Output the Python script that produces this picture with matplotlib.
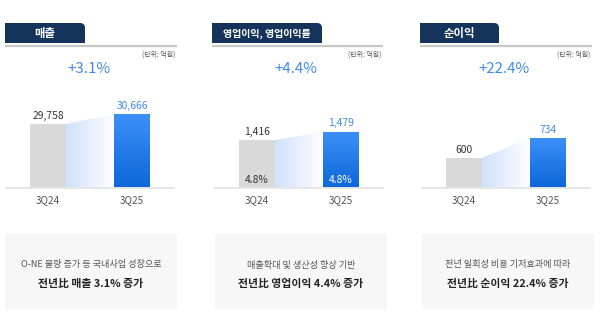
import numpy as np
import matplotlib.pyplot as plt
from matplotlib.colors import LinearSegmentedColormap
from matplotlib.patches import PathPatch, Rectangle, Polygon
from matplotlib.path import Path

plt.rcParams['font.family'] = ['Noto Sans CJK KR', 'DejaVu Sans']

titles = ['매출', '영업이익, 영업이익률', '순이익']
quarters = ['3Q24', '3Q25']
prev_vals = [29758, 1416, 600]
curr_vals = [30666, 1479, 734]
growth = ['+3.1%', '+4.4%', '+22.4%']
margins = [None, ['4.8%', '4.8%'], None]
notes = ['O-NE 물량 증가 등 국내사업 성장으로',
         '매출확대 및 생산성 향상 기반',
         '전년 일회성 비용 기저효과에 따라']
summaries = ['전년比 매출 3.1% 증가',
             '전년比 영업이익 4.4% 증가',
             '전년比 순이익 22.4% 증가']
unit = '(단위: 억원)'

# layout in pixels (y down)
W, H = 600, 322
tab_x = [5, 212, 420]
tab_w = [80, 110, 79]
tab_fs = [8.2, 7.2, 8.2]
line_r = [177, 383, 592]
box_x = [5, 215, 422]
ax_x = [6, 215, 422]
ylims = [(23950, 32400), (1038, 1770), (399, 1022)]

NAVY = '#15345b'
BLUE_TXT = '#3d8bea'
GRAY_BAR = '#d9d9d9'

fig = plt.figure(figsize=(6, 3.22), dpi=100)
bg = fig.add_axes([0, 0, 1, 1])
bg.set_xlim(0, W)
bg.set_ylim(H, 0)
bg.axis('off')

blue_cmap = LinearSegmentedColormap.from_list('b', ['#0b67d8', '#3e90f8'])
fade_cmap = LinearSegmentedColormap.from_list('f', ['#cfe1fb', '#ffffff'])

for i in range(3):
    x0 = tab_x[i]
    x1 = x0 + tab_w[i]
    r = 5
    verts = [(x0, 43), (x0, 23), (x1 - r, 23), (x1, 23), (x1, 23 + r), (x1, 43), (x0, 43)]
    codes = [Path.MOVETO, Path.LINETO, Path.LINETO, Path.CURVE3, Path.CURVE3,
             Path.LINETO, Path.CLOSEPOLY]
    bg.add_patch(PathPatch(Path(verts, codes), facecolor=NAVY, edgecolor='none'))
    bg.text((x0 + x1) / 2, 33.5, titles[i], color='white', fontsize=tab_fs[i], fontweight='bold',
            ha='center', va='center')
    bg.plot([x0, line_r[i]], [46, 46], color='#c6c6c6', lw=1.6, solid_capstyle='butt')
    bg.text(line_r[i] - 2, 55, unit, fontsize=5, color='#555555', ha='right', va='center')
    bg.text(x0 + 84, 69, growth[i], fontsize=10.8, color=BLUE_TXT, ha='center', va='center')

    bx = box_x[i]
    bg.add_patch(Rectangle((bx, 234), 172, 75, facecolor='#f7f7f7', edgecolor='none'))
    bg.text(bx + 86, 265, notes[i], fontsize=6.6, color='#555555', ha='center', va='center')
    bg.text(bx + 86, 283.5, summaries[i], fontsize=7.8, color='#222222', fontweight='bold',
            ha='center', va='center')

    # bar chart
    ax = fig.add_axes([ax_x[i] / W, (H - 188) / H, 168 / W, 93 / H])
    lo, hi = ylims[i]
    vals = [prev_vals[i], curr_vals[i]]
    bw = 0.42
    bars = ax.bar([0, 1], vals, width=bw, color=[GRAY_BAR, 'none'], zorder=2)

    # blue gradient bar
    b = bars[1]
    grad = np.linspace(0, 1, 256).reshape(-1, 1)
    im = ax.imshow(grad, cmap=blue_cmap, origin='lower', aspect='auto',
                   extent=(1 - bw / 2, 1 + bw / 2, lo, vals[1]), zorder=2)
    im.set_clip_path(b)

    # connector fading from gray bar to blue bar
    poly = Polygon([(bw / 2, lo), (bw / 2, vals[0]), (1 - bw / 2, vals[1]), (1 - bw / 2, lo)],
                   closed=True, facecolor='none', edgecolor='none')
    ax.add_patch(poly)
    hgrad = np.linspace(0, 1, 256).reshape(1, -1)
    im2 = ax.imshow(hgrad, cmap=fade_cmap, origin='lower', aspect='auto',
                    extent=(bw / 2, 1 - bw / 2, lo, vals[1]), zorder=1)
    im2.set_clip_path(poly)
    ax.set_xlim(-0.5, 1.5)
    ax.set_ylim(lo, hi)

    ax.annotate(f'{vals[0]:,}', (0, vals[0]), xytext=(0, 2.5), textcoords='offset points',
                ha='center', va='bottom', fontsize=7.4, color='#333333')
    ax.annotate(f'{vals[1]:,}', (1, vals[1]), xytext=(0, 2.5), textcoords='offset points',
                ha='center', va='bottom', fontsize=7.4, color=BLUE_TXT)

    if margins[i]:
        tr = ax.get_xaxis_transform()
        ax.text(0, 0.09, margins[i][0], transform=tr, ha='center', va='center',
                fontsize=7.4, color='#333333', zorder=3)
        ax.text(1, 0.09, margins[i][1], transform=tr, ha='center', va='center',
                fontsize=7.4, color='white', zorder=3)

    ax.set_xticks([0, 1])
    ax.set_xticklabels(quarters, fontsize=7.2, color='#555555')
    ax.tick_params(axis='x', length=0, pad=5)
    ax.set_yticks([])
    for s in ['top', 'left', 'right']:
        ax.spines[s].set_visible(False)
    ax.spines['bottom'].set_color('#e6e6e6')
    ax.spines['bottom'].set_linewidth(1.4)
    ax.patch.set_alpha(0)

fig.savefig('out.png', dpi=100)
